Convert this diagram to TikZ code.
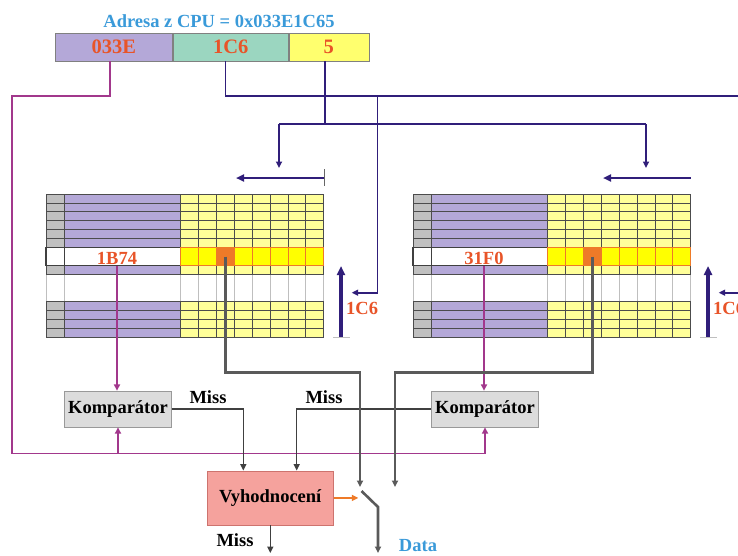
\documentclass[tikz,border=0pt]{standalone}
\usepackage{fontspec}
\setmainfont{Liberation Serif}
\usetikzlibrary{arrows.meta}

\definecolor{adrblue}{RGB}{58,154,217}
\definecolor{hexred}{RGB}{232,84,40}
\definecolor{tagviolet}{RGB}{180,168,216}
\definecolor{idxmint}{RGB}{155,214,192}
\definecolor{offyellow}{RGB}{255,255,110}
\definecolor{rowgray}{RGB}{192,192,192}
\definecolor{datayellow}{RGB}{255,255,153}
\definecolor{selyellow}{RGB}{255,255,0}
\definecolor{selorange}{RGB}{238,122,40}
\definecolor{busnavy}{RGB}{48,30,122}
\definecolor{tagmagenta}{RGB}{162,56,140}
\definecolor{datagray}{RGB}{90,90,90}
\definecolor{cmpgray}{RGB}{220,220,220}
\definecolor{evalpink}{RGB}{245,162,157}
\definecolor{evaledge}{RGB}{205,115,110}

\tikzset{
	lbl/.style={font=\fontsize{18.5}{20}\selectfont\bfseries},
	hexlbl/.style={lbl, text=hexred},
	adrfield/.style={draw=gray, minimum height=28, inner sep=0, font=\fontsize{20.5}{22}\selectfont\bfseries, text=hexred},
	cmpbox/.style={lbl, draw=gray!80, fill=cmpgray, minimum width=107, minimum height=36, inner sep=0},
	evalbox/.style={lbl, draw=evaledge, fill=evalpink, minimum width=126, minimum height=54.3, inner sep=0},
	tagline/.style={draw=tagmagenta, line width=1.6},
	navyline/.style={draw=busnavy, line width=1.6},
	offarrow/.style={draw=busnavy, line width=2.6, -{Triangle[length=8pt,width=7pt]}},
	setarrow/.style={draw=busnavy, line width=3.2, -{Triangle[length=9pt,width=8pt]}},
	dataline/.style={draw=datagray, line width=2.6},
	missline/.style={draw=black!75, line width=1.5},
	evalarrow/.style={draw=selorange, line width=1.5},
	cellrule/.style={draw=black!70, line width=0.8},
	emptyrule/.style={draw=black!25, line width=0.8},
	selframe/.style={draw=black!75, line width=1.2, fill=white},
	selborder/.style={draw=selorange, line width=1.4},
	>={Triangle[length=6.5pt,width=6pt]}
}

% one way of the cache: #1 left edge, #2 name suffix, #3 stored tag
\newcommand{\cachetab}[3]{%
	\begin{scope}[shift={(#1,194)}]
		% column lines through the empty rows
		\draw[emptyrule] (0,0) -- (0,143) (18.5,0) -- (18.5,143);
		\foreach \i in {0,...,8}
			\draw[emptyrule] (134.5+\i*17.9,0) -- (134.5+\i*17.9,143);
		% filled rows
		\foreach \ra/\rb in {0/9,12/16}{
			\fill[rowgray] (0,\ra*8.94) rectangle (18.5,\rb*8.94);
			\fill[tagviolet] (18.5,\ra*8.94) rectangle (134.5,\rb*8.94);
			\fill[datayellow] (134.5,\ra*8.94) rectangle (277.7,\rb*8.94);
			\foreach \r in {\ra,...,\rb}
				\draw[cellrule] (0,\r*8.94) -- (277.7,\r*8.94);
			\draw[cellrule] (0,\ra*8.94) -- (0,\rb*8.94) (18.5,\ra*8.94) -- (18.5,\rb*8.94);
			\foreach \i in {0,...,8}
				\draw[cellrule] (134.5+\i*17.9,\ra*8.94) -- (134.5+\i*17.9,\rb*8.94);
		}
		% selected line
		\draw[selframe] (0,53.64) rectangle (18.5,71.52) (18.5,53.64) rectangle (134.5,71.52);
		\fill[selyellow] (134.5,53.64) rectangle (277.7,71.52);
		\fill[selorange] (170.3,53.64) rectangle (188.2,71.52);
		\foreach \i in {1,...,7}
			\draw[selorange, line width=0.8] (134.5+\i*17.9,53.64) -- (134.5+\i*17.9,71.52);
		\draw[selborder] (134.5,53.64) rectangle (277.7,71.52);
		\node[hexlbl, anchor=base, inner sep=1.5] (tag#2) at (71,70) {#3};
		\coordinate (word#2) at (179.25,62.6);
		% offset and set arrows
		\draw[offarrow] (277.7,-16) -- (190,-16);
		\draw[setarrow] (295,143) -- (295,72);
		\draw[emptyrule] (287,143) -- (304,143);
		\node[hexlbl, anchor=base west, inner sep=0] (set#2) at (300,120) {1C6};
		\coordinate (drop#2) at (233,-70);
		\coordinate (offin#2) at (233,-26);
		\coordinate (bus#2) at (331.3,-98);
		\coordinate (setin#2) at (305.7,98.7);
	\end{scope}}

\begin{document}
\begin{tikzpicture}[x=1pt,y=-1pt]
	\useasboundingbox (0,0) rectangle (738,555);
	\clip (0,0) rectangle (738,555);

	% address from the CPU
	\node[lbl, text=adrblue, anchor=base] (adrTitle) at (219,27) {Adresa z CPU = 0x033E1C65};
	\node[adrfield, fill=tagviolet, minimum width=117.5] (adrTag) at (113.75,47) {033E};
	\node[adrfield, fill=idxmint, minimum width=115.5, anchor=west] (adrIdx) at (adrTag.east) {1C6};
	\node[adrfield, fill=offyellow, minimum width=80, anchor=west] (adrOff) at (adrIdx.east) {5};
	\coordinate (tagout) at ([xshift=-3.75]adrTag.south);
	\coordinate (idxout) at ([xshift=-5.25]adrIdx.south);
	\coordinate (offout) at ([xshift=-4]adrOff.south);

	% the two ways
	\cachetab{46}{L}{1B74}
	\cachetab{413}{R}{31F0}
	\draw[black!60, line width=0.8] (324,169) -- (324,186);

	% comparators and decision
	\node[cmpbox] (cmpL) at (118,409) {Komparátor};
	\node[cmpbox] (cmpR) at (485,409) {Komparátor};
	\node[evalbox] (eval) at (270.3,497.9) {Vyhodnocení};
	\node[lbl, anchor=base] (missL) at (208,403) {Miss};
	\node[lbl, anchor=base] (missR) at (324,403) {Miss};
	\node[lbl, anchor=base] (missOut) at (235,546.7) {Miss};
	\node[lbl, text=adrblue, anchor=base] (data) at (418,551.7) {Data};
	\coordinate (magbus) at (12,453.3);
	\coordinate (swin) at (360,487);
	\coordinate (swalt) at (395,487);
	\coordinate (swtop) at (361.5,491);
	\coordinate (swbot) at (378,507);
	\coordinate (dataout) at (378,553);
	\coordinate (swctl) at (358.3,497.9);
	\coordinate (missend) at (270.3,553);

	% index bus
	\draw[navyline] (idxout) |- (busR);
	\draw[navyline, ->] (busL) |- (setinL);
	\draw[navyline, ->] (busR) |- (setinR);
	% offset bus
	\draw[navyline] (offout) -- (offout |- dropL);
	\draw[navyline] (dropL) -- (dropR);
	\draw[navyline, ->] (dropL) -- (offinL);
	\draw[navyline, ->] (dropR) -- (offinR);

	% tags
	\draw[tagline, ->] (tagout) -- ++(0,35) -| (magbus) -| (cmpR.south);
	\draw[tagline, ->] (cmpL.south |- magbus) -- (cmpL.south);
	\draw[tagline, ->] (tagL.south) -- (tagL.south |- cmpL.north);
	\draw[tagline, ->] (tagR.south) -- (tagR.south |- cmpR.north);

	% miss signals
	\draw[missline, ->] (cmpL.east) -| ([xshift=-27]eval.north);
	\draw[missline, ->] (cmpR.west) -| ([xshift=26.4]eval.north);
	\draw[missline, ->] (eval.south) -- (missend);
	\draw[evalarrow, ->] (eval.east) -- (swctl);

	% data
	\draw[dataline, ->] (wordL) -- ++(0,116) -| (swin);
	\draw[dataline, ->] (wordR) -- ++(0,116) -| (swalt);
	\draw[dataline, ->] (swtop) -- (swbot) -- (dataout);
\end{tikzpicture}
\end{document}
